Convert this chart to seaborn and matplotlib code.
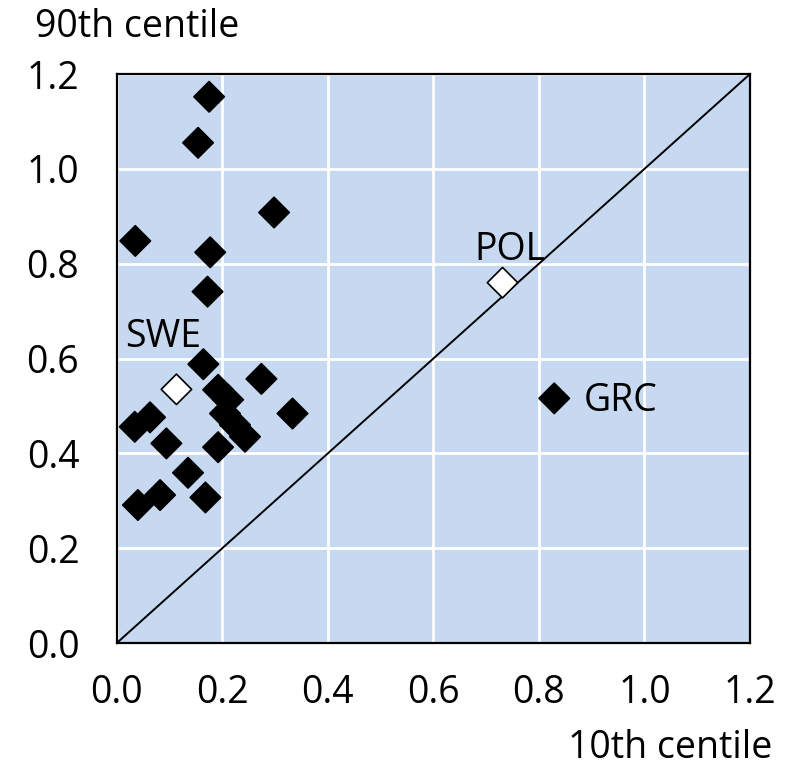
import matplotlib
matplotlib.use("Agg")
import matplotlib.pyplot as plt
import seaborn as sns
import pandas as pd

# Data (10th centile, 90th centile)
black_x = [0.175, 0.154, 0.298, 0.035, 0.177, 0.172, 0.164, 0.274, 0.333,
           0.192, 0.211, 0.205, 0.224, 0.243, 0.034, 0.063, 0.094, 0.192,
           0.135, 0.040, 0.082, 0.168, 0.829]
black_y = [1.152, 1.055, 0.908, 0.848, 0.824, 0.741, 0.588, 0.557, 0.484,
           0.534, 0.513, 0.484, 0.460, 0.435, 0.456, 0.476, 0.421, 0.413,
           0.359, 0.291, 0.312, 0.307, 0.516]
white_labels = ["SWE", "POL"]
white_x = [0.113, 0.731]
white_y = [0.535, 0.760]
grc_label = "GRC"
grc_xy = (0.829, 0.516)
ticks = [0.0, 0.2, 0.4, 0.6, 0.8, 1.0, 1.2]
tick_labels = ["0.0", "0.2", "0.4", "0.6", "0.8", "1.0", "1.2"]

df = pd.DataFrame({
    "x": black_x + white_x,
    "y": black_y + white_y,
    "kind": ["other"] * len(black_x) + ["highlight"] * len(white_x),
})

sns.set_style("white")
plt.rcParams["font.family"] = ["Open Sans", "DejaVu Sans"]
plt.rcParams["text.color"] = "black"

fig = plt.figure(figsize=(8.0, 7.71), dpi=100)
ax = fig.add_axes([0.146, 0.166, 0.7915, 0.738])
ax.set_facecolor("#C6D9F0")

ax.plot([0, 1.2], [0, 1.2], color="black", lw=1.4, zorder=2)

sns.scatterplot(data=df, x="x", y="y", hue="kind", style="kind",
                palette={"other": "black", "highlight": "white"},
                markers={"other": "D", "highlight": "D"},
                s=240, edgecolor="black", linewidth=1.2, legend=False,
                ax=ax, zorder=3)

ax.set_xlim(0, 1.2)
ax.set_ylim(0, 1.2)
ax.set_xticks(ticks)
ax.set_yticks(ticks)
ax.set_xticklabels(tick_labels)
ax.set_yticklabels(tick_labels)
ax.grid(True, color="white", lw=2)
ax.set_axisbelow(True)
for sp in ax.spines.values():
    sp.set_color("black")
    sp.set_linewidth(1.6)
    sp.set_visible(True)
fs = 27
ax.tick_params(axis="both", which="major", direction="out", length=10,
               width=1.4, color="black", labelsize=fs, labelcolor="black")
ax.tick_params(axis="x", pad=12)
ax.tick_params(axis="y", pad=17)
ax.set_xlabel("")
ax.set_ylabel("")

# Labels
ax.text(0.087, 0.645, white_labels[0], fontsize=fs, ha="center",
        va="center", zorder=4, color="black")
ax.text(0.745, 0.829, white_labels[1], fontsize=fs, ha="center",
        va="center", zorder=4, color="black")
ax.text(0.954, 0.511, grc_label, fontsize=fs, ha="center", va="center",
        zorder=4, color="black")

fig.text(35 / 800, 1 - 27 / 771, "90th centile", fontsize=fs, ha="left",
         va="center", color="black")
fig.text(772 / 800, 1 - 748 / 771, "10th centile", fontsize=fs, ha="right",
         va="center", color="black")

fig.savefig("out.png", dpi=100)
